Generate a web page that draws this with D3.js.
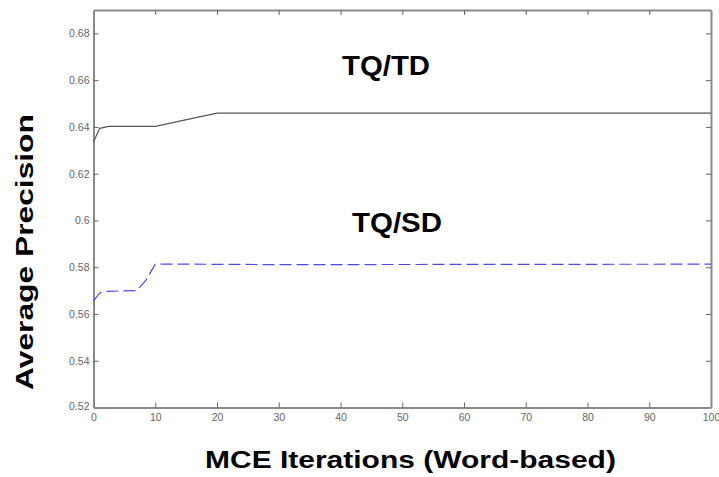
<!DOCTYPE html>
<html>
<head>
<meta charset="utf-8">
<script src="https://cdn.jsdelivr.net/npm/d3@7"></script>
<style>
  html, body { margin: 0; padding: 0; background: #fff; }
  svg { display: block; font-family: Arial, "Liberation Sans", Helvetica, sans-serif; }
</style>
</head>
<body>
<svg id="chart" width="719" height="477"></svg>
<script>
// data
const tdIter = [0, 1, 2.5, 10, 20, 100];
const tdAP = [0.6335, 0.6394, 0.6402, 0.6402, 0.6459, 0.6459];
const sdIter = [0, 1, 2, 7, 8.5, 10, 15, 30, 100];
const sdAP = [0.5656, 0.5690, 0.5697, 0.5700, 0.5745, 0.5813, 0.5813, 0.5811, 0.5813];
const xTicks = [0, 10, 20, 30, 40, 50, 60, 70, 80, 90, 100];
const yTicks = [0.52, 0.54, 0.56, 0.58, 0.6, 0.62, 0.64, 0.66, 0.68];

const svg = d3.select('#chart');
const plotL = 93.5, plotR = 711, plotT = 10, plotB = 407.5;

const x = d3.scaleLinear().domain([0, 100]).range([plotL, plotR]);
const y = d3.scaleLinear().domain([0.52, 0.69]).range([plotB, plotT]);

const axisColor = '#8a8a8a';
const tickFmt = d => String(+d.toFixed(2));

// bottom / left axes with labels, top / right with ticks only
const gx = svg.append('g').attr('transform', `translate(0,${plotB})`)
    .call(d3.axisBottom(x).tickValues(xTicks).tickSizeInner(-5).tickSizeOuter(0).tickPadding(6));
const gy = svg.append('g').attr('transform', `translate(${plotL},0)`)
    .call(d3.axisLeft(y).tickValues(yTicks).tickSizeInner(-5).tickSizeOuter(0).tickPadding(4).tickFormat(tickFmt));
const gxt = svg.append('g').attr('transform', `translate(0,${plotT})`)
    .call(d3.axisTop(x).tickValues(xTicks).tickSizeInner(-5).tickSizeOuter(0).tickFormat(''));
const gyr = svg.append('g').attr('transform', `translate(${plotR},0)`)
    .call(d3.axisRight(y).tickValues(yTicks).tickSizeInner(-5).tickSizeOuter(0).tickFormat(''));

[gx, gy, gxt, gyr].forEach(g => {
    g.select('.domain').attr('stroke', axisColor).attr('stroke-width', 2);
    g.selectAll('.tick line').attr('stroke', '#666').attr('stroke-width', 1);
    g.selectAll('.tick text').attr('fill', '#666').attr('font-size', 10.5)
        .attr('font-family', 'Arial, "Liberation Sans", sans-serif');
});
// drop ticks sitting on the frame corners
gxt.selectAll('.tick').filter(d => d === 0 || d === 100).remove();
gyr.selectAll('.tick').filter(d => d === 0.52).remove();
gx.selectAll('.tick line').filter(d => d === 0 || d === 100).remove();
gy.selectAll('.tick line').filter(d => d === 0.52).remove();
gy.selectAll('.tick text').filter(d => d === 0.52).attr('dy', '0.2em');

const line = d3.line().x(d => x(d[0])).y(d => y(d[1]));

svg.append('path')
    .datum(d3.zip(tdIter, tdAP))
    .attr('d', line)
    .attr('fill', 'none')
    .attr('stroke', '#555')
    .attr('stroke-width', 1.2);

svg.append('path')
    .datum(d3.zip(sdIter, sdAP))
    .attr('d', line)
    .attr('fill', 'none')
    .attr('stroke', '#4a4aff')
    .attr('stroke-width', 1.2)
    .attr('stroke-dasharray', '12,5');

// bold text, stretched along its run to a target length (the source font is wide)
function wideText(str, size, len, tf) {
    const t = svg.append('text').text(str)
        .attr('font-size', size).attr('font-weight', 'bold');
    const w = t.node().getComputedTextLength();
    t.attr('transform', `${tf} scale(${len / w},1)`);
    return t;
}

// in-plot series labels
wideText('TQ/TD', 27, 88, 'translate(342,75)');
wideText('TQ/SD', 27, 90, 'translate(352,231.5)');

// axis titles
wideText('MCE Iterations (Word-based)', 24.5, 411, 'translate(205,468)');
wideText('Average Precision', 24, 276, 'translate(33,390) rotate(-90)');
</script>
</body>
</html>
